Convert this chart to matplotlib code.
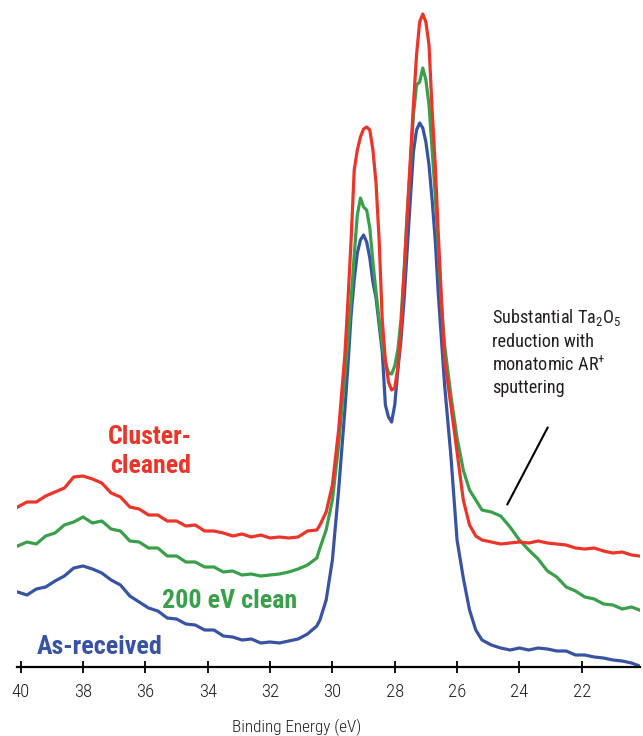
import matplotlib
matplotlib.use("Agg")
import matplotlib.pyplot as plt
from matplotlib import font_manager as fm

# Binding energy grid (eV), shared by the three spectra
energy = [40.1, 39.8, 39.5, 39.2, 38.9, 38.6, 38.3, 38.0, 37.7, 37.4,
          37.1, 36.8, 36.5, 36.2, 35.9, 35.6, 35.3, 35.0, 34.7, 34.4,
          34.1, 33.8, 33.5, 33.2, 32.9, 32.6, 32.3, 32.0, 31.7, 31.4,
          31.1, 30.8, 30.5,
          30.4, 30.2, 30.0, 29.8, 29.6,
          29.5, 29.4, 29.3, 29.2, 29.1, 29.0, 28.9, 28.8, 28.7, 28.6,
          28.5, 28.4, 28.3, 28.2, 28.1, 28.0, 27.9, 27.8, 27.7, 27.6,
          27.5, 27.4, 27.3, 27.2, 27.1, 27.0, 26.9, 26.8, 26.7, 26.6,
          26.5, 26.4,
          26.2, 26.0, 25.8, 25.6, 25.4,
          25.2, 24.9, 24.6, 24.3, 24.0, 23.7, 23.4, 23.1, 22.8, 22.5,
          22.2, 21.9, 21.6, 21.3, 21.0, 20.7, 20.4, 20.15]

# intensities (arbitrary units, spectra offset as in the figure)
cluster_cleaned = [160, 165, 165, 171, 175, 179, 190, 191, 188, 184,
                   174, 170, 160, 158, 152, 152, 146, 146, 141, 142,
                   136, 136, 134, 131, 133, 130, 132, 129, 130, 129,
                   130, 136, 137,
                   142, 155, 182, 237, 312,
                   367, 427, 497, 517, 530, 538, 540, 537, 517, 484,
                   427, 347, 307, 285, 277, 279, 299, 337, 392, 452,
                   507, 562, 612, 645, 653, 645, 622, 557, 502, 432,
                   367, 307,
                   262, 215, 167, 142, 131,
                   127, 125, 123, 124, 125, 124, 126, 124, 123, 122,
                   119, 118, 119, 116, 114, 115, 112, 111]

clean_200ev = [121, 125, 123, 131, 134, 142, 145, 150, 144, 146,
               138, 136, 126, 125, 119, 119, 111, 111, 105, 105,
               100, 100, 95, 96, 92, 93, 91, 92, 93, 95,
               98, 102, 109,
               119, 137, 167, 222, 292,
               327, 367, 412, 452, 469, 460, 457, 439, 405, 375,
               347, 322, 305, 294, 293, 301, 317, 347, 397, 452,
               502, 552, 582, 585, 599, 587, 562, 517, 472, 417,
               362, 322,
               272, 229, 197, 177, 167,
               157, 155, 151, 140, 127, 117, 108, 96, 90, 80,
               76, 70, 68, 63, 62, 58, 60, 57]

as_received = [75, 72, 78, 80, 86, 91, 99, 101, 98, 94,
               87, 82, 71, 65, 59, 56, 49, 48, 43, 42,
               37, 37, 31, 30, 27, 28, 24, 25, 24, 26,
               28, 33, 41,
               47, 67, 107, 177, 257,
               302, 352, 387, 414, 427, 432, 425, 409, 385, 369,
               342, 315, 262, 250, 245, 262, 297, 327, 367, 417,
               467, 515, 537, 544, 539, 525, 502, 467, 427, 372,
               327, 282,
               212, 127, 89, 57, 37,
               27, 22, 19, 17, 19, 17, 19, 18, 16, 16,
               12, 12, 10, 9, 7, 6, 4, 1]

xticks = [40, 38, 36, 34, 32, 30, 28, 26, 24, 22]

red = "#ec3428"
green = "#3a9f4b"
blue = "#3953a4"
ink = "#231f20"

# pick a condensed face if one is installed
available = {f.name for f in fm.fontManager.ttflist}
cond = "DejaVu Sans"
for name in ["Roboto Condensed", "Archivo Narrow", "Liberation Sans Narrow", "Roboto"]:
    if name in available:
        cond = name
        break

plt.rcParams["font.family"] = [cond, "DejaVu Sans"]
plt.rcParams["mathtext.fontset"] = "custom"
plt.rcParams["mathtext.rm"] = cond

fig = plt.figure(figsize=(6.43, 7.36), dpi=100)
ax = fig.add_axes([17 / 643, 1 - 667 / 736, 623 / 643, 667 / 736])

ax.plot(energy, cluster_cleaned, color=red, lw=2.3, zorder=3)
ax.plot(energy, clean_200ev, color=green, lw=2.3, zorder=2)
ax.plot(energy, as_received, color=blue, lw=2.3, zorder=1)

ax.set_xlim(40.12, 20.13)
ax.set_ylim(0, 667)

for s in ["top", "right", "left"]:
    ax.spines[s].set_visible(False)
ax.spines["bottom"].set_linewidth(1.6)
ax.set_yticks([])
ax.set_xticks(xticks)
ax.set_xticklabels([str(t) for t in xticks], fontweight="light")
ax.tick_params(axis="x", direction="inout", length=9, width=1.3,
               labelsize=13.5, pad=7, labelcolor=ink)
xlab = fig.text(297 / 643, 1 - 727 / 736, "Binding Energy (eV)", fontsize=12,
                fontweight="light", color=ink, ha="center", va="center")

# series labels
bold = dict(fontsize=19, fontweight="bold", va="center")
t_cl1 = ax.text(37.2, 230, "Cluster-", color=red, **bold)
t_cl2 = ax.text(37.14, 201, "cleaned", color=red, **bold)
t_200 = ax.text(35.47, 66, "200 eV clean", color=green, **bold)
t_as = ax.text(39.5, 20, "As-received", color=blue, **bold)

# annotation
note = ["Substantial Ta$_2$O$_5$", "reduction with", "monatomic AR$^{+}$", "sputtering"]
note_y = [349, 325, 302, 279]
note_txt = [ax.text(24.88, y, line, fontsize=14, color=ink, va="center")
            for line, y in zip(note, note_y)]
ax.annotate("", xy=(24.43, 160), xytext=(23.05, 242),
            arrowprops=dict(arrowstyle="-", color="black", lw=1.5))


# scale font sizes so the texts take the widths they have in the figure
def fit(texts, ref, width_px):
    fig.canvas.draw()
    w = ref.get_window_extent().width
    for t in texts:
        t.set_fontsize(t.get_fontsize() * width_px / w)


fit([t_cl1, t_cl2], t_cl1, 84)
fit([t_200], t_200, 135)
fit([t_as], t_as, 126)
fit(note_txt, note_txt[1], 103)
fit([xlab], xlab, 130)

fig.savefig("out.png", dpi=100)
